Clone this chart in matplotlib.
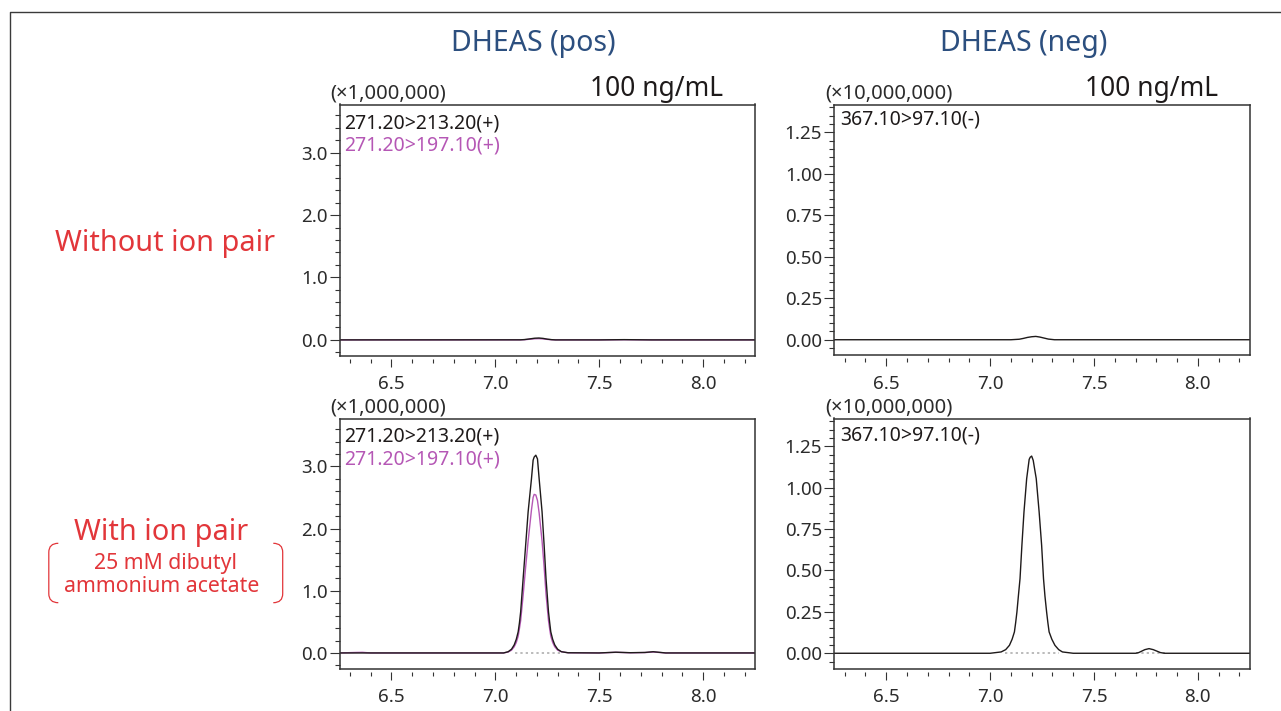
import matplotlib
matplotlib.use('Agg')
import matplotlib.pyplot as plt
from matplotlib.ticker import MultipleLocator, FormatStrFormatter
from matplotlib.path import Path
from matplotlib.patches import PathPatch
from matplotlib.lines import Line2D

# ---------------- data ----------------
col_titles = ['DHEAS (pos)', 'DHEAS (neg)']
row_labels = ['Without ion pair', 'With ion pair']
conc_label = '100 ng/mL'
pos_scale = '(\u00d71,000,000)'
neg_scale = '(\u00d710,000,000)'
pos_mrm = ['271.20>213.20(+)', '271.20>197.10(+)']
neg_mrm = ['367.10>97.10(-)']

x_range = [6.25, 8.25]
pos_ylim = [-0.25, 3.77]
neg_ylim = [-0.092, 1.418]

# top-left: positive mode, without ion pair
tl_t = [6.25, 7.12, 7.14, 7.155, 7.17, 7.19, 7.21, 7.23, 7.25, 7.27, 7.29,
        7.50, 7.62, 7.75, 8.25]
tl_black = [0.0, 0.001, 0.005, 0.011, 0.018, 0.027, 0.03, 0.024, 0.012, 0.004, 0.0,
            0.0, 0.004, 0.0, 0.0]
tl_mag = [0.0, 0.001, 0.003, 0.007, 0.012, 0.018, 0.02, 0.016, 0.008, 0.003, 0.0,
          0.0, 0.003, 0.0, 0.0]

# top-right: negative mode, without ion pair
tr_t = [6.25, 7.10, 7.14, 7.16, 7.18, 7.20, 7.22, 7.24, 7.26, 7.28, 7.31, 8.25]
tr_black = [0.0, 0.0, 0.003, 0.008, 0.014, 0.018, 0.02, 0.016, 0.01, 0.004, 0.0, 0.0]

# bottom-left: positive mode, with ion pair
bl_t = [6.25, 6.33, 6.36, 6.40, 7.04, 7.062, 7.078, 7.091, 7.101, 7.110,
        7.116, 7.122, 7.134, 7.146, 7.158, 7.174, 7.182, 7.187, 7.195, 7.203,
        7.211, 7.225, 7.235, 7.244, 7.256, 7.262, 7.267, 7.276, 7.286, 7.300,
        7.318, 7.35, 7.50, 7.58, 7.65, 7.72, 7.76, 7.82, 8.25]
bl_black = [0.0, 0.0, 0.0, 0.0, 0.0, 0.02, 0.06, 0.13, 0.22, 0.34,
            0.48, 0.66, 1.20, 1.73, 2.27, 2.80, 3.10, 3.15, 3.18, 3.12,
            2.80, 2.27, 1.73, 1.20, 0.66, 0.48, 0.34, 0.22, 0.13, 0.06,
            0.02, 0.003, 0.0, 0.012, 0.004, 0.008, 0.02, 0.0, 0.0]
bl_mag = [0.0, 0.008, 0.01, 0.0, 0.0, 0.015, 0.045, 0.10, 0.17, 0.27,
          0.39, 0.52, 0.93, 1.38, 1.80, 2.30, 2.50, 2.55, 2.54, 2.45,
          2.25, 1.80, 1.38, 0.95, 0.52, 0.38, 0.27, 0.17, 0.10, 0.045,
          0.02, 0.003, 0.0, 0.01, 0.003, 0.006, 0.015, 0.0, 0.0]
bl_baselines = [(7.094, 7.310)]

# bottom-right: negative mode, with ion pair
br_t = [6.25, 7.00, 7.053, 7.075, 7.093, 7.106, 7.117, 7.123, 7.129, 7.136,
        7.144, 7.153, 7.163, 7.176, 7.188, 7.193, 7.200, 7.2075, 7.214, 7.222,
        7.236, 7.248, 7.257, 7.264, 7.272, 7.278, 7.284, 7.297, 7.312, 7.330,
        7.348, 7.40, 7.70, 7.715, 7.745, 7.765, 7.785, 7.82, 7.84, 8.25]
br_black = [0.0, 0.0, 0.008, 0.022, 0.048, 0.085, 0.129, 0.185, 0.249, 0.345,
            0.451, 0.652, 0.853, 1.055, 1.171, 1.184, 1.191, 1.165, 1.115, 1.055,
            0.853, 0.652, 0.451, 0.345, 0.249, 0.185, 0.129, 0.085, 0.048, 0.022,
            0.008, 0.0, 0.0, 0.004, 0.022, 0.028, 0.022, 0.004, 0.0, 0.0]
br_baselines = [(7.07, 7.33), (7.70, 7.84)]

# ---------------- styling ----------------
W, H = 1281, 711
plt.rcParams['font.family'] = ['Noto Sans', 'DejaVu Sans']
BLUE = '#2c4f7f'
RED = '#e2363a'
MAG = '#b557b5'
BLK = '#1e1a1a'
FRAME = '#333333'
TXT = '#2b2b2b'

fig = plt.figure(figsize=(W / 100, H / 100), dpi=100)


def fx(px):
    return px / W


def fy(py):
    return 1 - py / H


def make_axes(l, t, r, b, ylim, ymaj, ymin, yfmt):
    ax = fig.add_axes([fx(l), fy(b), (r - l) / W, (b - t) / H])
    ax.set_xlim(*x_range)
    ax.set_ylim(*ylim)
    ax.xaxis.set_major_locator(MultipleLocator(0.5))
    ax.xaxis.set_minor_locator(MultipleLocator(0.1))
    ax.yaxis.set_major_locator(MultipleLocator(ymaj))
    ax.yaxis.set_minor_locator(MultipleLocator(ymin))
    ax.xaxis.set_major_formatter(FormatStrFormatter('%.1f'))
    ax.yaxis.set_major_formatter(FormatStrFormatter(yfmt))
    for s in ['top', 'left', 'right']:
        ax.spines[s].set_linewidth(1.1)
        ax.spines[s].set_color(FRAME)
    ax.spines['bottom'].set_position(('outward', 2.2))
    ax.spines['bottom'].set_visible(False)
    ax.add_line(Line2D([0, 1], [0, 0], transform=ax.transAxes, color=FRAME,
                       lw=1.1, clip_on=False, solid_capstyle='projecting'))
    ax.tick_params(axis='y', which='major', length=7.2, width=0.8, pad=1.5,
                   labelsize=13.5, colors=FRAME, labelcolor=TXT)
    ax.tick_params(axis='y', which='minor', length=3.6, width=0.8, colors=FRAME)
    ax.tick_params(axis='x', which='major', length=6.0, width=0.8, pad=6,
                   labelsize=13.5, colors=FRAME, labelcolor=TXT)
    ax.tick_params(axis='x', which='minor', length=3.0, width=0.8, colors=FRAME)
    return ax


ax_tl = make_axes(339.5, 104.5, 755, 355.5, pos_ylim, 1.0, 0.2, '%.1f')
ax_bl = make_axes(339.5, 418.5, 755, 668.5, pos_ylim, 1.0, 0.2, '%.1f')
ax_tr = make_axes(834.3, 104.5, 1249.8, 355.0, neg_ylim, 0.25, 0.05, '%.2f')
ax_br = make_axes(834.3, 418.5, 1249.8, 668.5, neg_ylim, 0.25, 0.05, '%.2f')

# traces
ax_tl.plot(tl_t, tl_mag, color=MAG, lw=1.0)
ax_tl.plot(tl_t, tl_black, color=BLK, lw=1.0)
ax_tr.plot(tr_t, tr_black, color=BLK, lw=1.0)
for s, e in bl_baselines:
    ax_bl.hlines(0, s, e, colors='#a8a8a8', linestyles=(0, (1.5, 2)), lw=1.1)
ax_bl.plot(bl_t, bl_mag, color=MAG, lw=1.0)
ax_bl.plot(bl_t, bl_black, color=BLK, lw=1.0)
for s, e in br_baselines:
    ax_br.hlines(0, s, e, colors='#a8a8a8', linestyles=(0, (1.5, 2)), lw=1.1)
ax_br.plot(br_t, br_black, color=BLK, lw=1.0)

# column titles
fig.text(fx(533), fy(51), col_titles[0], ha='center', va='baseline',
         fontsize=20.5, color=BLUE)
fig.text(fx(1024), fy(51), col_titles[1], ha='center', va='baseline',
         fontsize=20.5, color=BLUE)

# concentration labels
fig.text(fx(723), fy(96), conc_label, ha='right', va='baseline', fontsize=19, color=BLK)
fig.text(fx(1218), fy(96), conc_label, ha='right', va='baseline', fontsize=19, color=BLK)

# scale labels
for ypx in (98, 412.7):
    fig.text(fx(330), fy(ypx), pos_scale, ha='left', va='baseline', fontsize=14.5, color=TXT)
    fig.text(fx(825), fy(ypx), neg_scale, ha='left', va='baseline', fontsize=14.5, color=TXT)

# MRM labels
for y1, y2 in ((128.3, 151), (441.7, 464.3)):
    fig.text(fx(344), fy(y1), pos_mrm[0], ha='left', va='baseline', fontsize=14, color=BLK)
    fig.text(fx(344), fy(y2), pos_mrm[1], ha='left', va='baseline', fontsize=14, color=MAG)
for y1 in (125, 440.7):
    fig.text(fx(840), fy(y1), neg_mrm[0], ha='left', va='baseline', fontsize=14, color=BLK)

# row labels
fig.text(fx(165), fy(250.7), row_labels[0], ha='center', va='baseline', fontsize=20.8, color=RED)
fig.text(fx(161.5), fy(540), row_labels[1], ha='center', va='baseline', fontsize=20.8, color=RED)
fig.text(fx(165), fy(569.3), '25 mM dibutyl', ha='center', va='baseline', fontsize=15.3, color=RED)
fig.text(fx(161.5), fy(591.7), 'ammonium acetate', ha='center', va='baseline', fontsize=15.3, color=RED)


def bracket(x_end, x_side, y_top, y_bot, r):
    pts = [(x_end, y_top), (x_side, y_top), (x_side, y_top + r),
           (x_side, y_bot - r), (x_side, y_bot), (x_end, y_bot)]
    codes = [Path.MOVETO, Path.CURVE3, Path.CURVE3, Path.LINETO, Path.CURVE3, Path.CURVE3]
    verts = [(fx(x), fy(y)) for x, y in pts]
    fig.add_artist(PathPatch(Path(verts, codes), transform=fig.transFigure,
                             fill=False, edgecolor=RED, lw=0.9))


bracket(58.3, 48.8, 543.3, 602.7, 9)
bracket(273.3, 282.7, 543.3, 602.7, 9)

# outer frame (left and top edges)
fig.add_artist(Line2D([fx(9.8), fx(9.8), fx(1281)], [fy(711), fy(11.5), fy(11.5)],
                      transform=fig.transFigure, color='#3a3a3a', lw=1.0))

fig.savefig('out.png', dpi=100)
